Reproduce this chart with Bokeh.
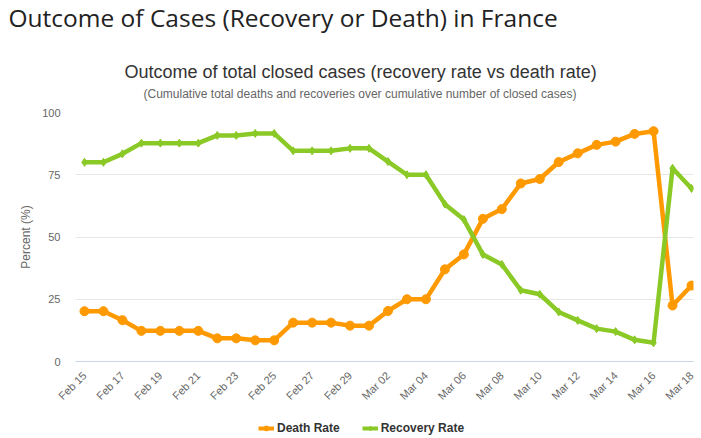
import numpy as np
from bokeh.plotting import figure
from bokeh.layouts import column
from bokeh.models import Legend, LegendItem, FixedTicker, Range1d, Title
from bokeh.embed import file_html
from bokeh.resources import INLINE

dates = ["Feb 15", "Feb 16", "Feb 17", "Feb 18", "Feb 19", "Feb 20", "Feb 21", "Feb 22",
         "Feb 23", "Feb 24", "Feb 25", "Feb 26", "Feb 27", "Feb 28", "Feb 29", "Mar 01",
         "Mar 02", "Mar 03", "Mar 04", "Mar 05", "Mar 06", "Mar 07", "Mar 08", "Mar 09",
         "Mar 10", "Mar 11", "Mar 12", "Mar 13", "Mar 14", "Mar 15", "Mar 16", "Mar 17", "Mar 18"]
death_rate = [20.2, 20.2, 16.6, 12.3, 12.3, 12.3, 12.3, 9.3, 9.3, 8.5, 8.5, 15.6, 15.6, 15.6,
              14.4, 14.4, 20.3, 25.0, 25.0, 37.0, 43.0, 57.3, 61.2, 71.5, 73.3, 80.1, 83.6,
              87.0, 88.3, 91.4, 92.5, 22.5, 30.5]
recovery_rate = [80.0, 80.0, 83.4, 87.7, 87.7, 87.7, 87.7, 90.8, 90.8, 91.6, 91.6, 84.6, 84.6, 84.6,
                 85.6, 85.6, 80.3, 75.0, 75.0, 63.2, 57.0, 43.0, 39.0, 28.6, 27.0, 19.9, 16.5,
                 13.2, 12.0, 8.7, 7.5, 77.6, 69.5]
y_ticks = [0, 25, 50, 75, 100]

x = list(range(len(dates)))
orange = "#FF9900"
green = "#8AC926"

p = figure(width=701, height=409, output_backend="svg", toolbar_location=None,
           x_range=Range1d(-0.474, 32.105), y_range=Range1d(0, 100),
           min_border_left=75, min_border_right=8, min_border_top=0, min_border_bottom=48)
p.outline_line_color = None
p.background_fill_color = "white"

p.xgrid.grid_line_color = None
p.ygrid.grid_line_color = "#e6e6e6"
p.ygrid.ticker = FixedTicker(ticks=y_ticks)

p.yaxis.ticker = FixedTicker(ticks=y_ticks)
p.yaxis.axis_line_color = None
p.yaxis.major_tick_line_color = None
p.yaxis.minor_tick_line_color = None
p.yaxis.major_tick_out = 0
p.yaxis.major_label_standoff = 15
p.yaxis.major_label_text_font = "Liberation Sans"
p.yaxis.major_label_text_font_size = "11px"
p.yaxis.major_label_text_color = "#666666"
p.yaxis.axis_label = "Percent (%)"
p.yaxis.axis_label_text_font = "Liberation Sans"
p.yaxis.axis_label_text_font_size = "12px"
p.yaxis.axis_label_text_font_style = "normal"
p.yaxis.axis_label_text_color = "#666666"
p.yaxis.axis_label_standoff = 6

p.xaxis.ticker = FixedTicker(ticks=x[::2])
p.xaxis.major_label_overrides = {i: dates[i] for i in x}
p.xaxis.major_label_orientation = np.pi / 4
p.xaxis.axis_line_color = "#ccd6eb"
p.xaxis.major_tick_line_color = None
p.xaxis.minor_tick_line_color = None
p.xaxis.major_label_text_font = "Liberation Sans"
p.xaxis.major_label_text_font_size = "11px"
p.xaxis.major_label_text_color = "#666666"
p.xaxis.major_label_standoff = 6

p.line(x, death_rate, line_color=orange, line_width=4.5)
p.scatter(x, death_rate, marker="circle", size=9, fill_color=orange, line_color=orange)
p.line(x, recovery_rate, line_color=green, line_width=4.5)
p.scatter(x, recovery_rate, marker="diamond", size=8, fill_color=green, line_color=green)

# titles (first added sits closest to the plot area)
p.add_layout(Title(text=" ", text_font_size="6px", standoff=1), "above")
p.add_layout(Title(text="(Cumulative total deaths and recoveries over cumulative number of closed cases)",
                   align="left", offset=68, text_font="Liberation Sans", text_font_size="12px",
                   text_font_style="normal", text_color="#666666", standoff=6), "above")
p.add_layout(Title(text="Outcome of total closed cases (recovery rate vs death rate)",
                   align="left", offset=49, text_font="Liberation Sans", text_font_size="18px",
                   text_font_style="normal", text_color="#333333", standoff=0), "above")
p.add_layout(Title(text=" ", text_font_size="12px", standoff=8), "above")
p.add_layout(Title(text="Outcome of Cases (Recovery or Death) in France",
                   align="left", offset=-67, vertical_align="top",
                   text_font="Open Sans", text_font_size="24.5px",
                   text_font_style="normal", text_color="#222222", standoff=0), "above")

# legend strip below the chart: same series, ranges keep the marks out of view
lg = figure(width=701, height=29, output_backend="svg", toolbar_location=None,
            x_range=Range1d(1000, 1001), y_range=Range1d(1000, 1001),
            min_border=0)
lg.axis.visible = False
lg.grid.visible = False
lg.outline_line_color = None
dl = lg.line(x, death_rate, line_color=orange, line_width=4)
dm = lg.scatter(x, death_rate, marker="circle", size=8, fill_color=orange, line_color=orange)
rl = lg.line(x, recovery_rate, line_color=green, line_width=4)
rm = lg.scatter(x, recovery_rate, marker="diamond", size=8, fill_color=green, line_color=green)
legend = Legend(items=[LegendItem(label="Death Rate", renderers=[dl, dm]),
                       LegendItem(label="Recovery Rate", renderers=[rl, rm])],
                orientation="horizontal", location=(183, 3),
                label_text_font="Liberation Sans", label_text_font_size="12px",
                label_text_font_style="bold", label_text_color="#333333",
                border_line_color=None, background_fill_alpha=0,
                padding=0, margin=0, spacing=22, glyph_width=16, glyph_height=12,
                label_standoff=3)
lg.add_layout(legend, "center")

layout = column(p, lg, spacing=0)
open("out.html", "w").write(file_html(layout, INLINE))
